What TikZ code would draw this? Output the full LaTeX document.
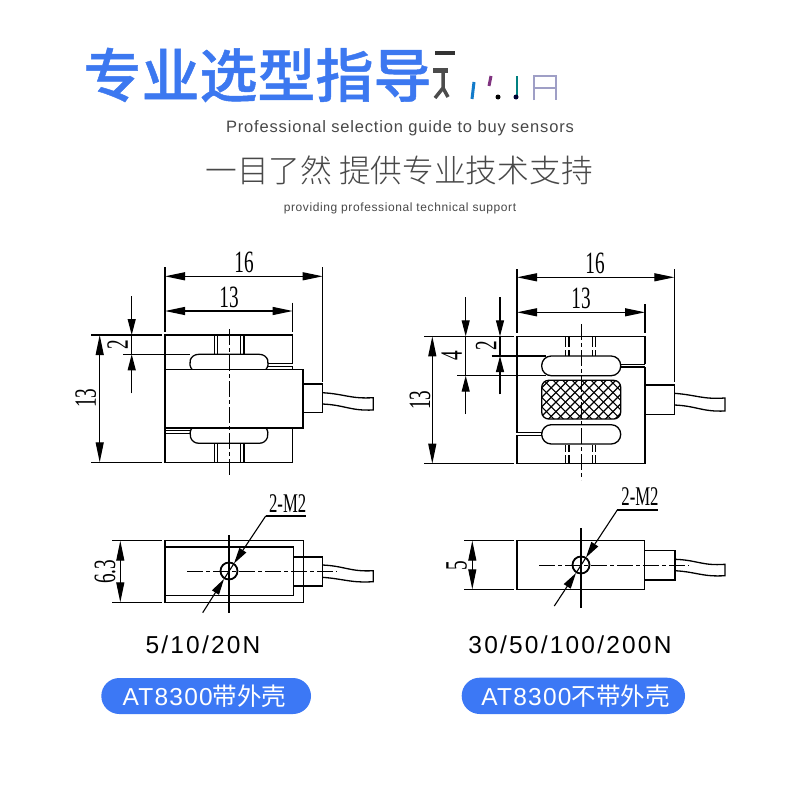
\documentclass[tikz,border=0pt]{standalone}
\usepackage{fontspec}
\usetikzlibrary{arrows.meta,patterns}
\setmainfont{Liberation Sans}
\newfontfamily\cjk{Noto Sans CJK SC}
\newfontfamily\cjkb[FakeBold=0.8]{Noto Sans CJK SC Medium}
\newfontfamily\cjkl{Noto Sans CJK SC Light}
\newfontfamily\dimfont[FakeStretch=0.62]{Liberation Serif}
\newfontfamily\subfont[LetterSpace=5]{Liberation Sans}
\newfontfamily\loadfont[LetterSpace=9]{Liberation Sans}
\definecolor{titleblue}{HTML}{3C78F0}
\definecolor{pillblue}{HTML}{3C78F5}
\definecolor{greytext}{HTML}{484848}
\tikzset{
  part/.style={draw=black,line width=1.3pt},
  thin part/.style={draw=black,line width=1.2pt},
  axis/.style={draw=black,line width=1pt,dash pattern=on 16pt off 3pt on 4pt off 3pt},
  dimline/.style={draw=black,line width=1.1pt},
  dimarrow/.style={draw=black,line width=1.1pt,{Triangle[length=20pt,width=8pt]}-{Triangle[length=20pt,width=8pt]}},
  tipend/.style={draw=black,line width=1.1pt,-{Triangle[length=16pt,width=8pt]}},
  dimtext/.style={font=\dimfont\fontsize{31}{31}\selectfont,inner sep=0pt},
  pill/.style={fill=pillblue,rounded corners=18pt},
  pilltext/.style={text=white,font=\subfont\fontsize{24.5}{25}\selectfont,inner sep=0pt},
  load/.style={text=black,font=\loadfont\fontsize{24.5}{26}\selectfont,inner sep=0pt},
}
\newcommand{\cjkword}[1]{{\cjk #1}}
\begin{document}
\begin{tikzpicture}[x=1pt,y=-1pt]
\useasboundingbox (0,0) rectangle (800,800);
\fill[white] (0,0) rectangle (800,800);
% headings
\node[inner sep=0pt,text=titleblue,font=\cjkb\fontsize{58}{60}\selectfont] (title) at (257.5,75) {专业选型指导};
% smudged remains of the heading
\fill[black!80] (435,51) rectangle (455,55);
\fill[black!70] (433,68) rectangle (448,73);
\draw[black!70,line width=3.5pt] (443,73) -- (443,88) -- (435,98) (443,88) -- (448,97);
\draw[cyan!60!blue,line width=3pt] (474,82) -- (472,99);
\draw[violet!60!gray,line width=3pt] (491,76) -- (489,86);
\fill[black] (498,97) circle (2.5pt);
\draw[teal,line width=2pt] (517,76) -- (517,96);
\fill[black!80!blue] (516,97) circle (2.5pt);
\draw[blue!25!gray!60,line width=1.2pt] (534,100) -- (534,76) -- (556,76) -- (556,100) (534,88) -- (556,88);
\node[inner sep=0pt,text=greytext,font=\subfont\fontsize{16.5}{18}\selectfont] (sub1) at (400,128) {Professional selection guide to buy sensors};
\node[inner sep=0pt,text=greytext,font=\cjkl\fontsize{31.7}{33}\selectfont] (sub2) at (399,170) {一目了然 提供专业技术支持};
\node[inner sep=0pt,text=greytext,font=\subfont\fontsize{12}{14}\selectfont] (sub3) at (400,208) {providing professional technical support};
% ---------- upper left ----------
\draw[part] (165,369.3) -- (165,335) -- (292.7,335) -- (292.7,363.5) -- (268,363.5);
\draw[part] (268,366.8) -- (292.7,366.8) (292.7,366.8) -- (292.7,369.3);
\draw[part] (165,369.3) rectangle (303,428);
\draw[part] (165,428) -- (165,462.3) -- (292.7,462.3) -- (292.7,428);
\draw[part] (165,430.7) -- (190,430.7) (165,433.4) -- (190,433.4);
\draw[part] (192,369.3) .. controls (188,365) and (189,354.3) .. (199,354.3) -- (259,354.3) .. controls (269,354.3) and (270,365) .. (266,369.3);
\draw[part] (192,428) .. controls (188,433) and (190,443.3) .. (199,443.3) -- (259,443.3) .. controls (268,443.3) and (270,433) .. (266,428);
\foreach \x in {214.3,217.3,240.7,244}{
  \draw[thin part] (\x,335) -- (\x,354.3);
  \draw[thin part] (\x,443.3) -- (\x,462.3);}
\draw[axis] (229,329) -- (229,476.7);
\draw[part] (303,384) rectangle (322.3,412.7);
\draw[part] (322.3,392.7) .. controls (345,394) and (350,399) .. (373.3,397.7) -- (373.3,410) .. controls (350,411) and (345,405) .. (322.3,404);
\draw[dimline] (165,267) -- (165,331.6) (322.7,267) -- (322.7,381.7) (292.7,302.7) -- (292.7,331.6);
\draw[dimarrow] (165,276.3) -- (322.7,276.3);
\draw[dimarrow] (165,311) -- (292.7,311);
\draw[dimline] (91.3,335) -- (161.7,335) (91.3,462.3) -- (161.7,462.3) (123,354.3) -- (190,354.3);
\draw[dimarrow] (99.7,335) -- (99.7,462.3);
\draw[tipend] (131.7,296) -- (131.7,335);
\draw[tipend] (131.7,393.3) -- (131.7,354.3);
\draw[dimline] (131.7,335) -- (131.7,354.3);
\node[dimtext] (la) at (244,262.7) {16};
\node[dimtext] (lb) at (229,297.7) {13};
\node[dimtext,rotate=90] (lc) at (117.7,345) {2};
\node[dimtext,rotate=90] (ld) at (85.7,398) {13};
% ---------- upper right ----------
\draw[part] (645,364.3) -- (645,336.3) -- (517,336.3) -- (517,432.7) (517,435.3) -- (517,463.7) -- (645,463.7) -- (645,366.9);
\draw[part] (620.7,364.3) -- (645,364.3) (620.7,366.9) -- (645,366.9);
\draw[part] (517,432.7) -- (541.7,432.7) (517,435.3) -- (541.7,435.3);
\draw[part,rounded corners=9.5pt] (541.7,356) rectangle (620.7,375.7);
\draw[part,rounded corners=9.5pt] (541.7,424.7) rectangle (620.7,444);
\begin{scope}
\clip[rounded corners=7pt] (541.7,380.3) rectangle (620.7,419);
\foreach \k in {-6,...,14}{
  \draw[black,line width=1.1pt] (541.7+\k*9.5,380.3-2) -- ++(45,45);
  \draw[black,line width=1.1pt] (541.7+\k*9.5,380.3-2) -- ++(-45,45);}
\end{scope}
\draw[part,rounded corners=7pt] (541.7,380.3) rectangle (620.7,419);
\foreach \x in {565.7,569,592.3,595.7}{
  \draw[thin part] (\x,336.3) -- (\x,347) (\x,350) -- (\x,356);
  \draw[thin part] (\x,444.7) -- (\x,451.7) (\x,455) -- (\x,463.7);}
\draw[axis] (581,324) -- (581,480);
\draw[part] (645,385) rectangle (674.3,414.3);
\draw[part] (674.3,393.3) .. controls (697,395) and (702,399.5) .. (725,398) -- (725,411) .. controls (702,412) and (697,406) .. (674.3,405);
\draw[dimline] (517,269.3) -- (517,332.7) (674.3,269.3) -- (674.3,381.7) (645,304) -- (645,332.7);
\draw[dimarrow] (517,277.3) -- (674.3,277.3);
\draw[dimarrow] (517,312.3) -- (645,312.3);
\draw[dimline] (424,336.3) -- (514,336.3) (424,463.7) -- (514,463.7) (457.3,375.7) -- (546,375.7) (491.7,356) -- (546,356);
\draw[dimarrow] (432.3,336.3) -- (432.3,463.7);
\draw[tipend] (465.7,297.3) -- (465.7,336.3);
\draw[tipend] (465.7,414) -- (465.7,375.7);
\draw[tipend] (500,297.3) -- (500,336.3);
\draw[tipend] (500,394.3) -- (500,356);
\draw[dimline] (465.7,336.3) -- (465.7,375.7) (500,336.3) -- (500,356);
\node[dimtext] (ra) at (595,263.3) {16};
\node[dimtext] (rb) at (581,298.7) {13};
\node[dimtext,rotate=90] (rc) at (451.7,355.7) {4};
\node[dimtext,rotate=90] (rd) at (486,345.7) {2};
\node[dimtext,rotate=90] (re) at (420,400) {13};
% ---------- lower left ----------
\draw[part] (165,540.7) rectangle (303.3,602.3);
\draw[part] (165,547) -- (293.3,547) -- (293.3,595.7) -- (165,595.7);
\draw[part] (293.3,557) -- (322.3,557) -- (322.3,586) -- (293.3,586);
\draw[part] (322.3,565) .. controls (345,566) and (350,572) .. (373.3,570.7) -- (373.3,581.7) .. controls (350,583) and (345,579) .. (322.3,577.3);
\draw[part,line width=1.8pt] (229,571) circle (8.5pt);
\draw[thin part] (229,535) -- (229,613.3);
\draw[axis] (187.3,571) -- (336.7,571);
\coordinate (lla) at (265.7,516);
\coordinate (llb) at (202.7,612.7);
\draw[dimline] (lla) -- (306,516);
\draw[tipend] (lla) -- (234,563.5);
\draw[tipend] (llb) -- (224,579);
\draw[dimline] (234,563.5) -- (224,579);
\draw[dimline] (112.3,540.7) -- (161.7,540.7) (112.3,602.3) -- (161.7,602.3);
\draw[dimarrow] (120.3,540.7) -- (120.3,602.3);
\node[dimtext,font=\dimfont\fontsize{27}{27}\selectfont] (lm) at (287.7,503.3) {2-M2};
\node[dimtext,rotate=90] (ln) at (105,571.7) {6.3};
% ---------- lower right ----------
\draw[part] (517,540.7) rectangle (644.7,589.3);
\draw[part] (644.7,550.7) -- (675,550.7) -- (675,580) -- (644.7,580);
\draw[part] (675,559.3) .. controls (697,560) and (702,566) .. (725,564.3) -- (725,575.7) .. controls (702,577) and (697,572) .. (675,570.7);
\draw[part,line width=1.8pt] (581,565) circle (8.5pt);
\draw[thin part] (581,528) -- (581,607.7);
\draw[axis] (539.3,565) -- (689.3,565);
\coordinate (rra) at (617.3,510);
\coordinate (rrb) at (554.3,606);
\draw[dimline] (rra) -- (658,510);
\draw[tipend] (rra) -- (586,557.5);
\draw[tipend] (rrb) -- (576,573);
\draw[dimline] (586,557.5) -- (576,573);
\draw[dimline] (464,540.7) -- (514,540.7) (464,589.3) -- (514,589.3);
\draw[dimarrow] (472.3,540.7) -- (472.3,589.3);
\node[dimtext,font=\dimfont\fontsize{27}{27}\selectfont] (rm) at (640,496.7) {2-M2};
\node[dimtext,rotate=90] (rn) at (456.7,565.7) {5};
% ---------- bottom labels ----------
\node[load] (lload) at (203,645) {5/10/20N};
\node[load] (rload) at (570,645) {30/50/100/200N};
\fill[pill] (101.3,678) rectangle (311,714);
\fill[pill] (461.7,677.7) rectangle (685,714);
\node[pilltext] (lpill) at (204.5,696) {AT8300\cjkword{带外壳}};
\node[pilltext] (rpill) at (575.5,696) {AT8300\cjkword{不带外壳}};
\end{tikzpicture}
\end{document}
